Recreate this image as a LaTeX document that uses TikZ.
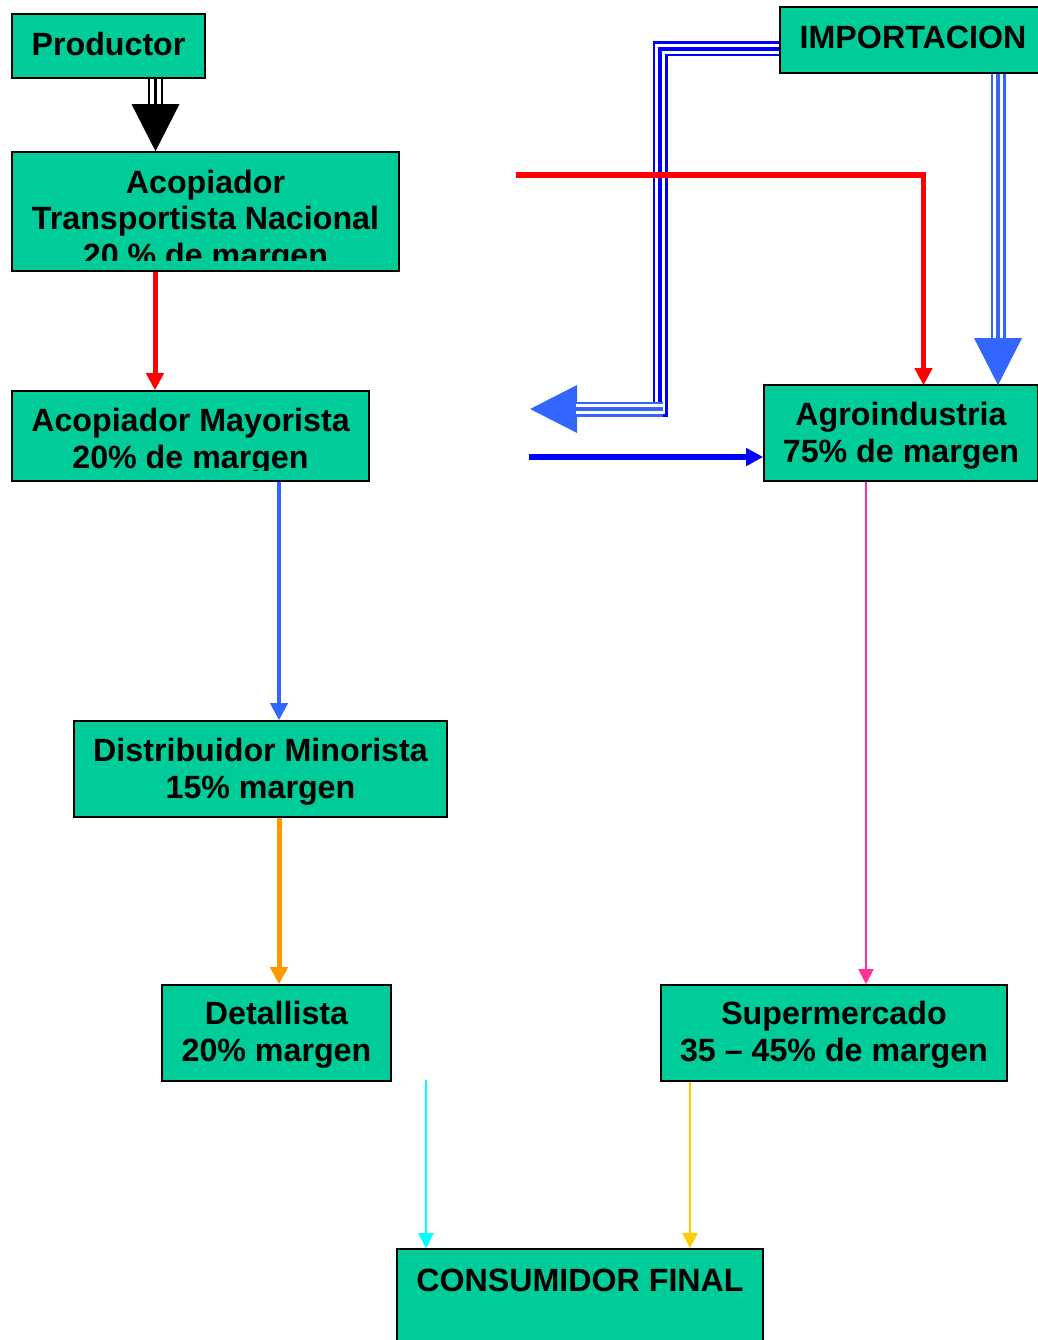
\documentclass[tikz,border=0pt]{standalone}
\usepackage{fontspec}
\setmainfont{Liberation Sans}
\usetikzlibrary{arrows.meta}
\definecolor{teal}{RGB}{0,204,153}
\definecolor{rblue}{RGB}{51,102,255}
\definecolor{pblue}{RGB}{0,0,255}
\definecolor{orng}{RGB}{255,153,0}
\definecolor{pnk}{RGB}{255,51,153}
\definecolor{cyn}{RGB}{0,255,255}
\definecolor{gld}{RGB}{255,204,0}
\tikzset{
  box/.style={draw=black, line width=1.6pt, fill=teal, inner sep=0pt},
  txt/.style={font=\fontsize{32.2}{36.5}\selectfont\bfseries, align=center, inner sep=0pt, anchor=base},
  smalltip/.style={-{Triangle[length=17pt,width=17pt]}},
  tinytip/.style={-{Triangle[length=15pt,width=15pt]}},
  trout/.style={line width=15pt},
  trwhite/.style={line width=10.5pt, white},
  trcen/.style={line width=3.5pt},
  bigtip/.style={-{Triangle[length=47pt,width=47pt]}}
}
\begin{document}
\begin{tikzpicture}[x=1pt,y=-1pt]
\useasboundingbox (0,0) rectangle (1037,1340);
% boxes
\node[box, minimum width=193pt, minimum height=64pt] (prod) at (108.5,46) {};
\node[box, minimum width=387pt, minimum height=119pt] (acop) at (205.5,211.5) {};
\node[box, minimum width=357pt, minimum height=90pt] (mayor) at (190.5,436) {};
\node[box, minimum width=373pt, minimum height=96pt] (dist) at (260.5,769) {};
\node[box, minimum width=229pt, minimum height=96pt] (detal) at (276.5,1033) {};
\node[box, minimum width=266pt, minimum height=66pt] (imp) at (913,40) {};
\node[box, minimum width=274pt, minimum height=96pt] (agro) at (901,433) {};
\node[box, minimum width=346pt, minimum height=96pt] (super) at (834,1033) {};
\node[box, minimum width=366pt, minimum height=151pt] (cons) at (580,1324.5) {};
% texts (base anchor = baseline of last line)
\node[txt] (prodT) at (108.5,56) {Productor};
\begin{scope}
\clip (13,153) rectangle (398,260);
\node[txt] (acopT) at (205.5,266) {Acopiador\\Transportista Nacional\\20 \% de margen};
\end{scope}
\begin{scope}
\clip (13,392) rectangle (368,470);
\node[txt] (mayorT) at (190.5,468) {Acopiador Mayorista\\20\% de margen};
\end{scope}
\node[txt] (distT) at (260.5,798) {Distribuidor Minorista\\15\% margen};
\node[txt] (detalT) at (276.5,1061) {Detallista\\20\% margen};
\node[txt] (impT) at (913,49) {IMPORTACION};
\node[txt] (agroT) at (901,462) {Agroindustria\\75\% de margen};
\node[txt] (superT) at (834,1061) {Supermercado\\35 -- 45\% de margen};
\node[txt] (consT) at (580,1291) {CONSUMIDOR FINAL};
% free ends
\coordinate (redstart) at (516,175);
\coordinate (redbend) at (923.5,175);
\coordinate (bluestart) at (529,457);
\coordinate (cyanstart) at (426,1080);
\coordinate (c1) at (660,49);
\coordinate (c2) at (660,409);
\coordinate (c2b) at (663,409);
\coordinate (leftend) at (530,409);
% black triple arrow
\draw[trout, black, shorten >=46pt] ([xshift=47pt]prod.south) -- ([xshift=-50pt]acop.north);
\draw[trwhite, shorten >=46pt] ([xshift=47pt]prod.south) -- ([xshift=-50pt]acop.north);
\draw[trcen, black, bigtip] ([xshift=47pt]prod.south) -- ([xshift=-50pt]acop.north);
% importacion -> agroindustria triple arrow
\draw[trout, rblue, shorten >=46pt] ([xshift=85pt]imp.south) -- ([xshift=97pt,yshift=-1pt]agro.north);
\draw[trwhite, shorten >=46pt] ([xshift=85pt]imp.south) -- ([xshift=97pt,yshift=-1pt]agro.north);
\draw[trcen, rblue, bigtip] ([xshift=85pt]imp.south) -- ([xshift=97pt,yshift=-1pt]agro.north);
% importacion -> left triple arrow
\draw[trout, pblue, shorten >=46pt, line join=miter] ([yshift=-9pt]imp.west) -- (c1) -- (c2) -- (leftend);
\draw[trwhite, shorten >=46pt, line join=miter] ([yshift=-9pt]imp.west) -- (c1) -- (c2) -- (leftend);
\draw[trcen, pblue, line join=miter, -{Triangle[length=47pt,width=47pt,color=rblue]}] ([yshift=-9pt]imp.west) -- (c1) -- (c2) -- (leftend);
\draw[trout, rblue, shorten >=46pt] (c2b) -- (leftend);
\draw[trwhite, shorten >=46pt] (c2b) -- (leftend);
\draw[trcen, rblue, shorten >=46pt] (c2b) -- (leftend);
% simple arrows
\draw[red, line width=5pt, smalltip] ([xshift=-50.5pt]acop.south) -- ([xshift=-35.5pt]mayor.north);
\draw[rblue, line width=4pt, smalltip] ([xshift=88.5pt]mayor.south) -- ([xshift=18.5pt]dist.north);
\draw[orng, line width=5pt, smalltip] ([xshift=18.5pt]dist.south) -- ([xshift=2.5pt]detal.north);
\draw[pnk, line width=2pt, tinytip] ([xshift=-35pt]agro.south) -- ([xshift=32pt]super.north);
\draw[cyn, line width=2pt, tinytip] (cyanstart) -- ([xshift=-154pt]cons.north);
\draw[gld, line width=2pt, tinytip] ([xshift=-144pt]super.south) -- ([xshift=110pt]cons.north);
\draw[red, line width=5.5pt, smalltip, line join=miter] (redstart) -- (redbend) -- ([xshift=22.5pt,yshift=-1pt]agro.north);
\draw[pblue, line width=5.5pt, smalltip] (bluestart) -- ([yshift=-24pt]agro.west);
\end{tikzpicture}
\end{document}
